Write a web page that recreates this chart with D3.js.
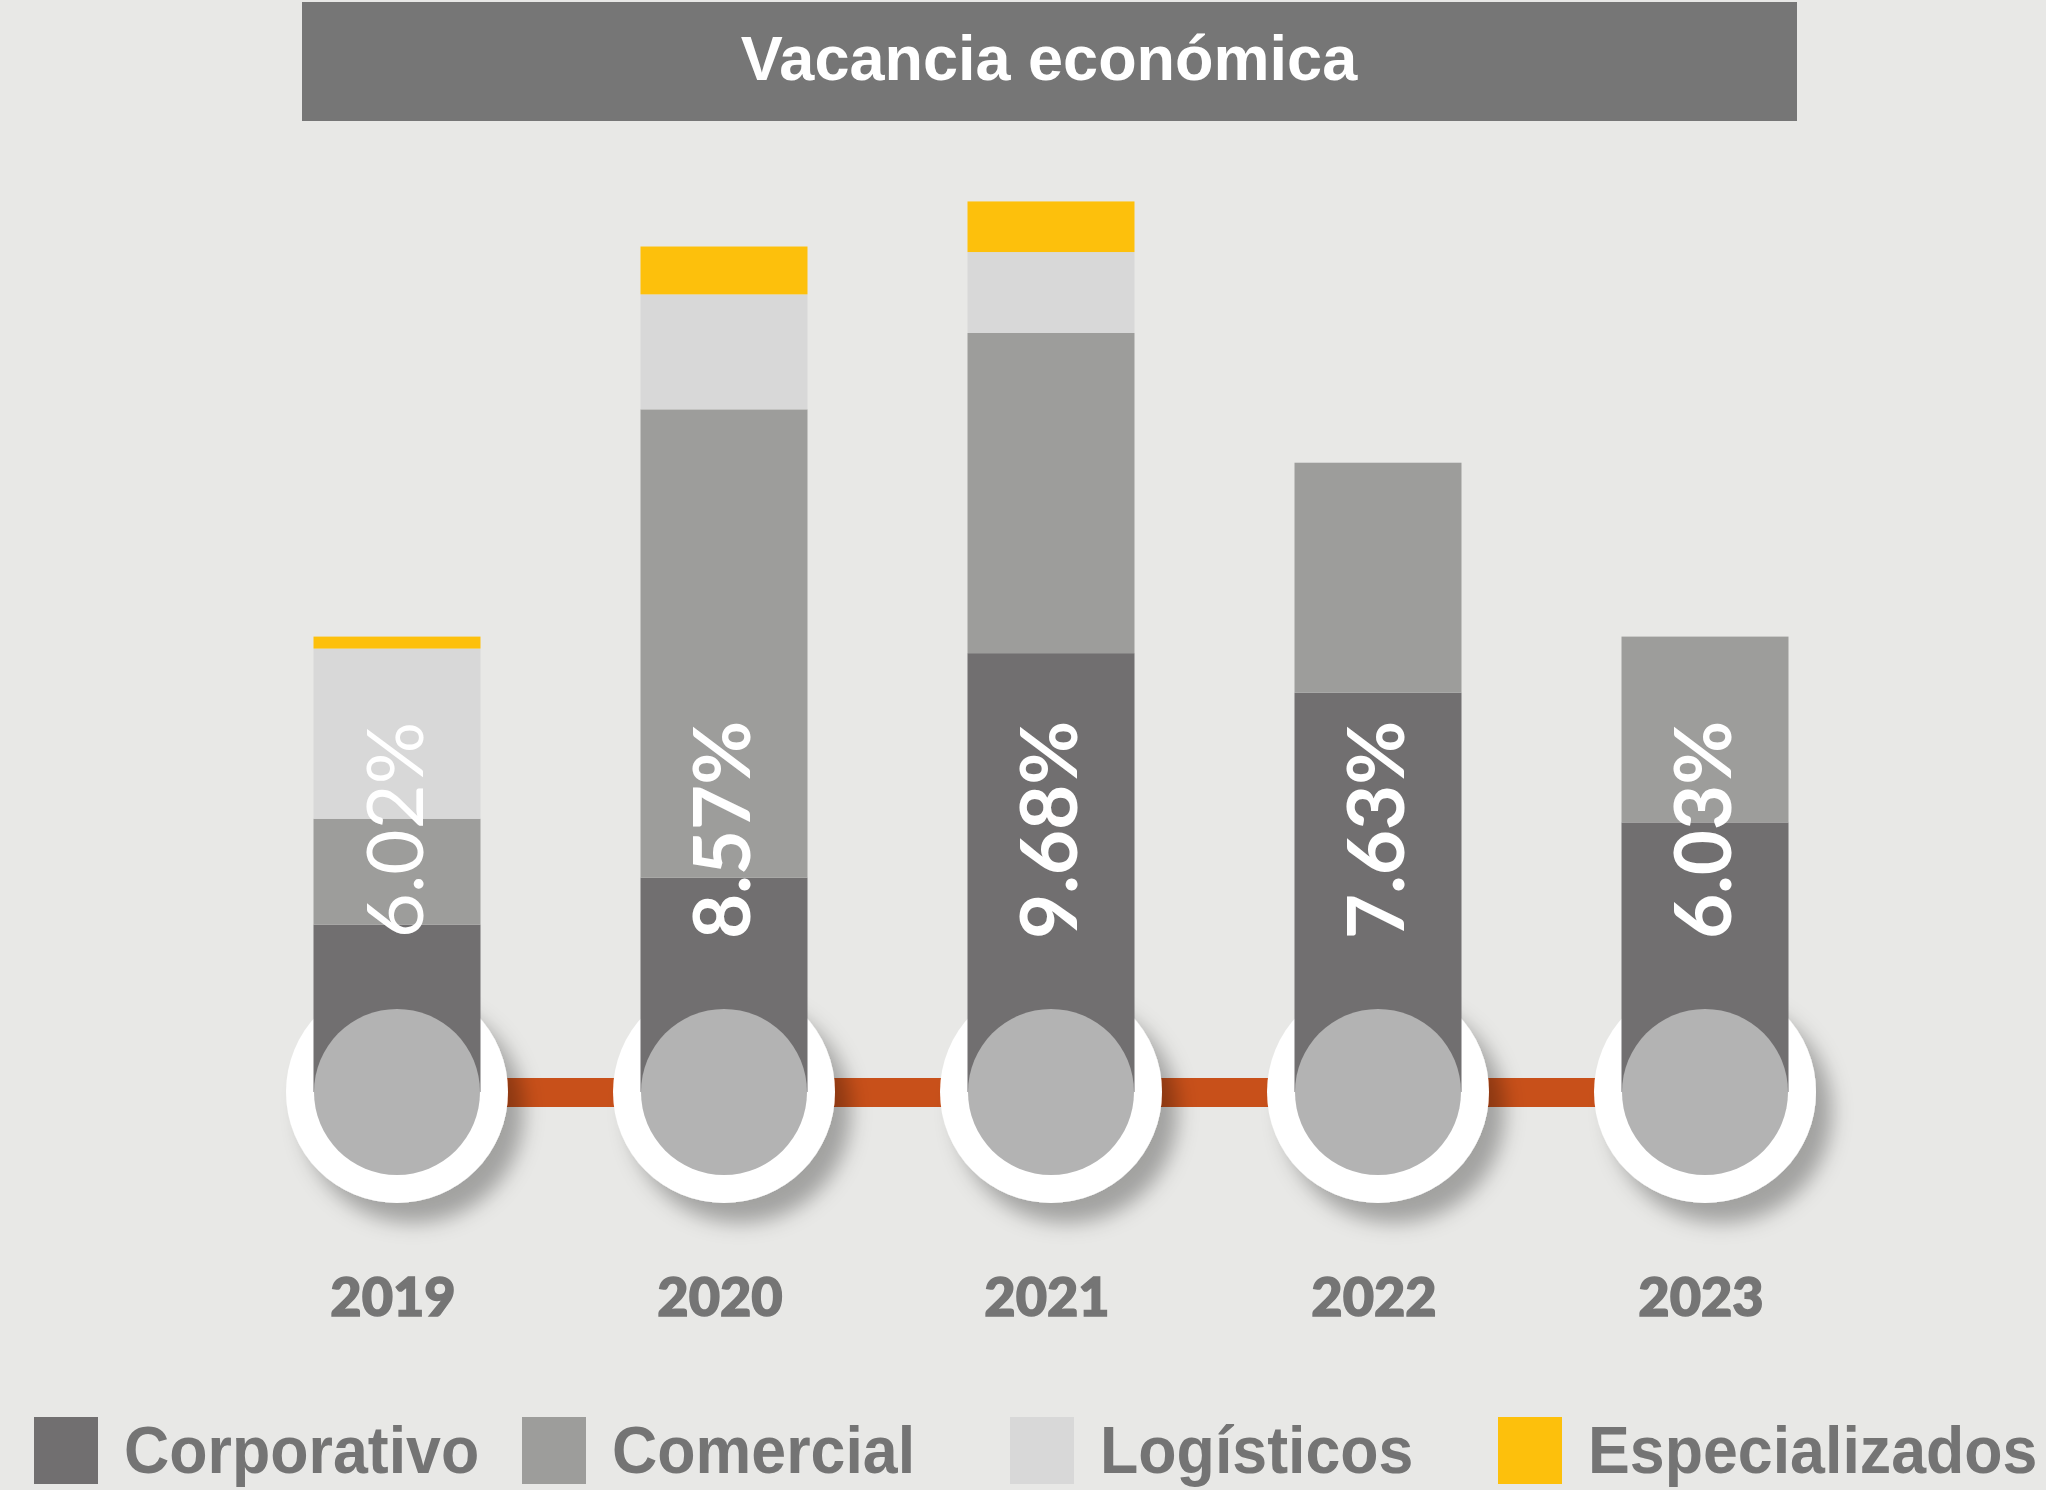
<!DOCTYPE html>
<html>
<head>
<meta charset="utf-8">
<script src="https://cdn.jsdelivr.net/npm/d3@7"></script>
<style>
  body { margin: 0; background: #e8e8e6; }
  svg { display: block; }
</style>
</head>
<body>
<div id="chart"></div>
<script>
// data (segment values in % points)
const years = ["2019", "2020", "2021", "2022", "2023"];
const seriesNames = ["Corporativo", "Comercial", "Logísticos", "Especializados"];
const corporativo = [1.82, 2.33, 4.77, 4.34, 2.93];
const comercial = [1.15, 5.09, 3.48, 2.50, 2.02];
const logisticos = [1.85, 1.25, 0.88, 0, 0];
const especializados = [0.13, 0.52, 0.55, 0, 0];
const totals = [6.02, 8.57, 9.68, 7.63, 6.03];

const colors = ["#716f70", "#9d9d9b", "#d8d8d8", "#fdc00c"];

function init() {
    const w = 2046;
    const h = 1490;
    const barWidth = 167;

    const rows = years.map((y, i) => ({
        year: y,
        Corporativo: corporativo[i],
        Comercial: comercial[i],
        "Logísticos": logisticos[i],
        Especializados: especializados[i],
        total: totals[i]
    }));

    const svg = d3.select("#chart")
        .append("svg")
        .attr("width", w)
        .attr("height", h);

    const defs = svg.append("defs");
    defs.append("filter")
        .attr("id", "shadow")
        .attr("x", "-50%").attr("y", "-50%")
        .attr("width", "200%").attr("height", "200%")
        .append("feDropShadow")
        .attr("dx", 16).attr("dy", 20)
        .attr("stdDeviation", 10)
        .attr("flood-color", "#000")
        .attr("flood-opacity", 0.3);

    const xScale = d3.scalePoint()
        .domain(years)
        .range([397, 1705]);

    const yScale = d3.scaleLinear()
        .domain([0, 10])
        .range([1092, 172]);

    // title banner
    svg.append("rect")
        .attr("x", 302).attr("y", 2)
        .attr("width", 1495).attr("height", 119)
        .attr("fill", "#767676");
    svg.append("text")
        .attr("x", 1049).attr("y", 80)
        .attr("text-anchor", "middle")
        .attr("font-family", "Liberation Sans, Arial, sans-serif")
        .attr("font-weight", "bold")
        .attr("font-size", "63px")
        .attr("fill", "#fff")
        .text("Vacancia económica");

    // orange timeline
    svg.append("rect")
        .attr("x", xScale(years[0]))
        .attr("y", yScale(0) - 14)
        .attr("width", xScale(years[years.length - 1]) - xScale(years[0]))
        .attr("height", 29)
        .attr("fill", "#c8501a");

    // white discs with shadow
    svg.selectAll("circle.outer")
        .data(rows)
        .enter()
        .append("circle")
        .attr("class", "outer")
        .attr("cx", d => xScale(d.year))
        .attr("cy", yScale(0))
        .attr("r", 111)
        .attr("fill", "#fff")
        .attr("filter", "url(#shadow)");

    // stacked bars
    const stack = d3.stack().keys(seriesNames);
    const layers = stack(rows);

    svg.selectAll("g.layer")
        .data(layers)
        .enter()
        .append("g")
        .attr("class", "layer")
        .attr("fill", (d, i) => colors[i])
        .selectAll("rect")
        .data(d => d)
        .enter()
        .append("rect")
        .attr("x", d => xScale(d.data.year) - barWidth / 2)
        .attr("y", d => yScale(d[1]))
        .attr("width", barWidth)
        .attr("height", d => yScale(d[0]) - yScale(d[1]));

    // inner grey disc (cylinder base)
    svg.selectAll("circle.inner")
        .data(rows)
        .enter()
        .append("circle")
        .attr("class", "inner")
        .attr("cx", d => xScale(d.year))
        .attr("cy", yScale(0))
        .attr("r", 83)
        .attr("fill", "#b3b3b3");

    // rotated totals
    svg.selectAll("text.values")
        .data(rows)
        .enter()
        .append("text")
        .attr("class", "values")
        .attr("transform", d => `translate(${xScale(d.year) + 26},${yScale(0) - 262}) rotate(-90)`)
        .attr("text-anchor", "middle")
        .attr("font-family", "Lato, sans-serif")
        .attr("font-weight", d => d.year === "2019" ? 400 : 700)
        .attr("font-size", "78px")
        .attr("fill", "#fff")
        .text(d => d.total.toFixed(2) + "%");

    // year labels
    svg.selectAll("text.labels")
        .data(rows)
        .enter()
        .append("text")
        .attr("class", "labels")
        .attr("x", d => xScale(d.year) - 4)
        .attr("y", 1316)
        .attr("text-anchor", "middle")
        .attr("font-family", "Lato, sans-serif")
        .attr("font-weight", 900)
        .attr("font-size", "54px")
        .attr("fill", "#757575")
        .attr("stroke", "#757575")
        .attr("stroke-width", 1.5)
        .text(d => d.year);

    // legend
    const legend = svg.selectAll("g.legend")
        .data(seriesNames)
        .enter()
        .append("g")
        .attr("class", "legend")
        .attr("transform", (d, i) => `translate(${34 + i * 488},1417)`);

    legend.append("rect")
        .attr("width", 64)
        .attr("height", 67)
        .attr("fill", (d, i) => colors[i]);

    legend.append("text")
        .attr("transform", "translate(90,56) scale(0.95,1)")
        .attr("font-family", "Liberation Sans, Arial, sans-serif")
        .attr("font-weight", "bold")
        .attr("font-size", "66px")
        .attr("fill", "#747474")
        .text(d => d);
}

window.onload = init;
</script>
</body>
</html>
